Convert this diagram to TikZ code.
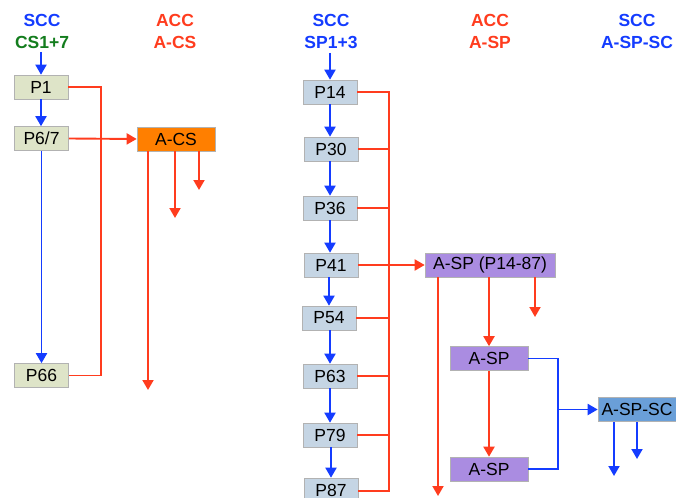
\documentclass[tikz,border=0pt]{standalone}
\usepackage{fontspec}
\setmainfont{Liberation Sans}
\usetikzlibrary{arrows.meta}
\definecolor{cblue}{RGB}{20,60,255}
\definecolor{cred}{RGB}{255,60,30}
\definecolor{cgreen}{RGB}{20,125,30}
\definecolor{fleft}{RGB}{222,228,200}
\definecolor{fmid}{RGB}{197,213,228}
\definecolor{forange}{RGB}{255,127,0}
\definecolor{fpurple}{RGB}{170,140,225}
\definecolor{fsteel}{RGB}{106,159,216}
\tikzset{
  box/.style={draw=black!30, line width=0.6pt, minimum height=24pt, inner sep=1pt, font=\fontsize{17.5}{18}\selectfont},
  lbox/.style={box, fill=fleft, minimum width=54pt},
  mbox/.style={box, fill=fmid, minimum width=54pt},
  hdr/.style={font=\bfseries\fontsize{17.5}{18}\selectfont, inner sep=0pt},
  barrow/.style={draw=cblue, line width=1.9pt, -{Triangle[length=10pt,width=11pt]}},
  rarrow/.style={draw=cred, line width=1.9pt, -{Triangle[length=10pt,width=11pt]}},
  bline/.style={draw=cblue, line width=1.9pt},
  rline/.style={draw=cred, line width=1.9pt},
}
\begin{document}
\begin{tikzpicture}[x=1pt,y=-1pt]
\useasboundingbox (0,0) rectangle (676,497);
% headers
\node[hdr, text=cblue] (h1) at (42,20) {SCC};
\node[hdr, text=cgreen] (h1b) at (42,42) {CS1+7};
\node[hdr, text=cred] (h2) at (175,20) {ACC};
\node[hdr, text=cred] (h2b) at (175,42) {A-CS};
\node[hdr, text=cblue] (h3) at (331,20) {SCC};
\node[hdr, text=cblue] (h3b) at (331,42) {SP1+3};
\node[hdr, text=cred] (h4) at (490,20) {ACC};
\node[hdr, text=cred] (h4b) at (490,42) {A-SP};
\node[hdr, text=cblue] (h5) at (637,20) {SCC};
\node[hdr, text=cblue] (h5b) at (637,42) {A-SP-SC};
% left column
\node[lbox] (P1) at (41,87) {P1};
\node[lbox] (P67) at (41.5,138.5) {P6/7};
\node[lbox] (P66) at (41.5,375.5) {P66};
\node[box, fill=forange, minimum width=78pt] (ACS) at (176,139) {A-CS};
\coordinate (c1top) at (41,52);
\draw[barrow] (c1top) -- (P1.north);
\draw[barrow] (P1.south) -- (P67.north -| P1.south);
\draw[barrow] (P67.south) -- (P66.north);
\coordinate (lbus) at (101,87);
\draw[rline] (P1.east) -| (lbus) |- (P66.east);
\draw[rarrow] (P67.east) -- (ACS.west);
\coordinate (a1) at (148,390);
\coordinate (a2) at (175,218);
\coordinate (a3) at (199,190);
\draw[rarrow] (ACS.south -| a1) -- (a1);
\draw[rarrow] (ACS.south -| a2) -- (a2);
\draw[rarrow] (ACS.south -| a3) -- (a3);
% middle column
\node[mbox] (P14) at (330,92) {P14};
\node[mbox] (P30) at (331,149) {P30};
\node[mbox] (P36) at (330,208) {P36};
\node[mbox] (P41) at (331,265) {P41};
\node[mbox] (P54) at (329,318) {P54};
\node[mbox] (P63) at (330,376) {P63};
\node[mbox] (P79) at (330,435) {P79};
\node[mbox] (P87) at (331,490) {P87};
\coordinate (c3top) at (330,53);
\draw[barrow] (c3top) -- (P14.north);
\draw[barrow] (P14.south) -- (P30.north -| P14.south);
\draw[barrow] (P30.south -| P36.north) -- (P36.north);
\draw[barrow] (P36.south) -- (P41.north -| P36.south);
\draw[barrow] (P54.north |- P41.south) -- (P54.north);
\draw[barrow] (P63.north |- P54.south) -- (P63.north);
\draw[barrow] (P63.south) -- (P79.north);
\draw[barrow] (P87.north |- P79.south) -- (P87.north);
% red bus
\coordinate (bt) at (389,92);
\coordinate (bb) at (389,491);
\draw[rline] (P14.east) -- (bt) -- (bb) -- (P87.east |- bb);
\draw[rline] (P30.east) -- (P30.east -| bt);
\draw[rline] (P36.east) -- (P36.east -| bt);
\draw[rline] (P54.east) -- (P54.east -| bt);
\draw[rline] (P63.east) -- (P63.east -| bt);
\draw[rline] (P79.east) -- (P79.east -| bt);
% A-SP
\node[box, fill=fpurple, minimum width=130pt] (ASP) at (490,265) {A-SP (P14-87)};
\draw[rarrow] (P41.east) -- (ASP.west);
\node[box, fill=fpurple, minimum width=78pt] (ASP1) at (489,358.5) {A-SP};
\node[box, fill=fpurple, minimum width=78pt] (ASP2) at (489,469) {A-SP};
\coordinate (s1) at (438,496);
\coordinate (s3) at (535,317);
\draw[rarrow] (ASP.south -| s1) -- (s1);
\draw[rarrow] (ASP.south -| ASP1.north) -- (ASP1.north);
\draw[rarrow] (ASP.south -| s3) -- (s3);
\draw[rarrow] (ASP1.south) -- (ASP2.north);
% A-SP-SC
\node[box, fill=fsteel, minimum width=78pt, inner sep=0pt] (ASPSC) at (637,409.5) {A-SP-SC};
\coordinate (j) at (558,409.5);
\draw[bline] (ASP1.east) -| (j) |- (ASP2.east);
\draw[barrow] (j) -- (ASPSC.west);
\coordinate (t1) at (614,476);
\coordinate (t2) at (637,459);
\draw[barrow] (ASPSC.south -| t1) -- (t1);
\draw[barrow] (ASPSC.south -| t2) -- (t2);
\end{tikzpicture}
\end{document}
